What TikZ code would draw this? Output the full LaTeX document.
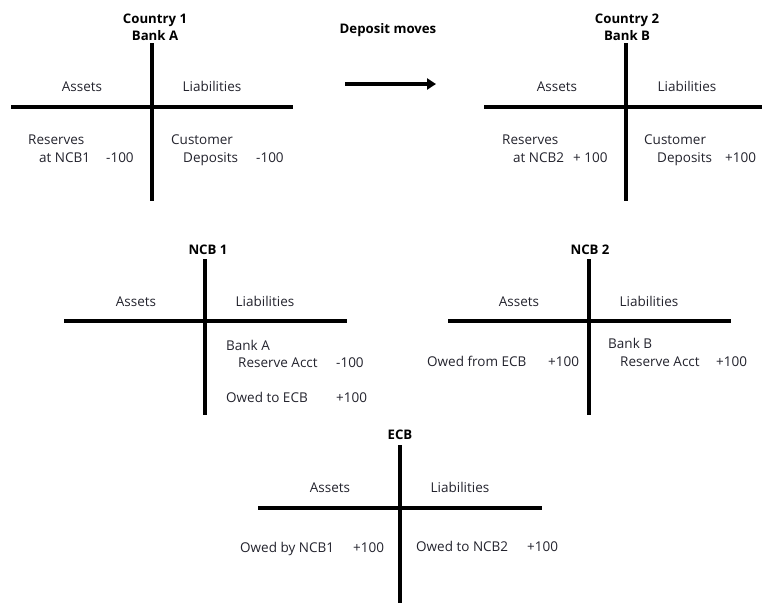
\documentclass[tikz,border=0pt]{standalone}
\usepackage{fontspec}
\setmainfont{Open Sans}
\usetikzlibrary{arrows.meta}
\definecolor{txt}{RGB}{35,35,45}
\begin{document}
\begin{tikzpicture}[x=1pt,y=-1pt,
  tline/.style={line width=3.6pt},
  lbl/.style={anchor=mid west, inner sep=0pt, text=txt, yshift=-3pt},
  hd/.style={anchor=mid, inner sep=0pt, text=txt, yshift=-3pt},
  ttl/.style={inner sep=0pt, font=\bfseries\fontsize{13.2}{17}\selectfont, align=center, yshift=-1pt},
  every node/.append style={font=\fontsize{13.5}{16}\selectfont}
]
\useasboundingbox (0,0) rectangle (762,606);

% ---------------- Bank A ----------------
\coordinate (a-t) at (152,43);
\coordinate (a-b) at (152,201);
\coordinate (a-l) at (11,107);
\coordinate (a-r) at (293,107);
\draw[tline] (a-t) -- (a-b);
\draw[tline] (a-l) -- (a-r);
\node[ttl] (a-title) at (155,26.5) {Country 1\\Bank A};
\node[hd] (a-as) at (82,86) {Assets};
\node[hd] (a-li) at (212,86) {Liabilities};
\node[lbl] (a-r1) at (28,139) {Reserves};
\node[lbl] (a-r2) at (39,157) {at NCB1};
\node[lbl] (a-v1) at (106,157) {-100};
\node[lbl] (a-c1) at (171,139) {Customer};
\node[lbl] (a-c2) at (183,157) {Deposits};
\node[lbl] (a-v2) at (256,157) {-100};

% ---------------- Bank B ----------------
\coordinate (b-t) at (626,43);
\coordinate (b-b) at (626,201);
\coordinate (b-l) at (484,107);
\coordinate (b-r) at (762,107);
\draw[tline] (b-t) -- (b-b);
\draw[tline] (b-l) -- (b-r);
\node[ttl] (b-title) at (627,26.5) {Country 2\\Bank B};
\node[hd] (b-as) at (557,86) {Assets};
\node[hd] (b-li) at (687,86) {Liabilities};
\node[lbl] (b-r1) at (502,139) {Reserves};
\node[lbl] (b-r2) at (513,157) {at NCB2};
\node[lbl] (b-v1) at (573,157) {+ 100};
\node[lbl] (b-c1) at (644,139) {Customer};
\node[lbl] (b-c2) at (657,157) {Deposits};
\node[lbl] (b-v2) at (725,157) {+100};

% ---------------- Deposit moves ----------------
\node[ttl] (dm) at (388,29) {Deposit moves};
\coordinate (m-s) at (345,84);
\coordinate (m-e) at (436,84);
\draw[line width=3.6pt, -{Triangle[length=9pt,width=11pt]}] (m-s) -- (m-e);

% ---------------- NCB 1 ----------------
\coordinate (n1-t) at (205,259);
\coordinate (n1-b) at (205,415);
\coordinate (n1-l) at (64,321);
\coordinate (n1-r) at (347,321);
\draw[tline] (n1-t) -- (n1-b);
\draw[tline] (n1-l) -- (n1-r);
\node[ttl] (n1-title) at (208,249) {NCB 1};
\node[hd] (n1-as) at (136,301) {Assets};
\node[hd] (n1-li) at (265,301) {Liabilities};
\node[lbl] (n1-l1) at (226,345) {Bank A};
\node[lbl] (n1-l2) at (238,362) {Reserve Acct};
\node[lbl] (n1-v1) at (336,362) {-100};
\node[lbl] (n1-l3) at (226,397) {Owed to ECB};
\node[lbl] (n1-v2) at (336,397) {+100};

% ---------------- NCB 2 ----------------
\coordinate (n2-t) at (589,259);
\coordinate (n2-b) at (589,415);
\coordinate (n2-l) at (448,321);
\coordinate (n2-r) at (731,321);
\draw[tline] (n2-t) -- (n2-b);
\draw[tline] (n2-l) -- (n2-r);
\node[ttl] (n2-title) at (590,249) {NCB 2};
\node[hd] (n2-as) at (519,301) {Assets};
\node[hd] (n2-li) at (649,301) {Liabilities};
\node[lbl] (n2-a1) at (427,361) {Owed from ECB};
\node[lbl] (n2-av) at (548,361) {+100};
\node[lbl] (n2-l1) at (608,343) {Bank B};
\node[lbl] (n2-l2) at (620,361) {Reserve Acct};
\node[lbl] (n2-lv) at (716,361) {+100};

% ---------------- ECB ----------------
\coordinate (e-t) at (400,445);
\coordinate (e-b) at (400,603);
\coordinate (e-l) at (258,508);
\coordinate (e-r) at (542,508);
\draw[tline] (e-t) -- (e-b);
\draw[tline] (e-l) -- (e-r);
\node[ttl] (e-title) at (400,434) {ECB};
\node[hd] (e-as) at (330,487) {Assets};
\node[hd] (e-li) at (460,487) {Liabilities};
\node[lbl] (e-a1) at (240,547) {Owed by NCB1};
\node[lbl] (e-av) at (353,547) {+100};
\node[lbl] (e-l1) at (416,546) {Owed to NCB2};
\node[lbl] (e-lv) at (527,546) {+100};
\end{tikzpicture}
\end{document}
